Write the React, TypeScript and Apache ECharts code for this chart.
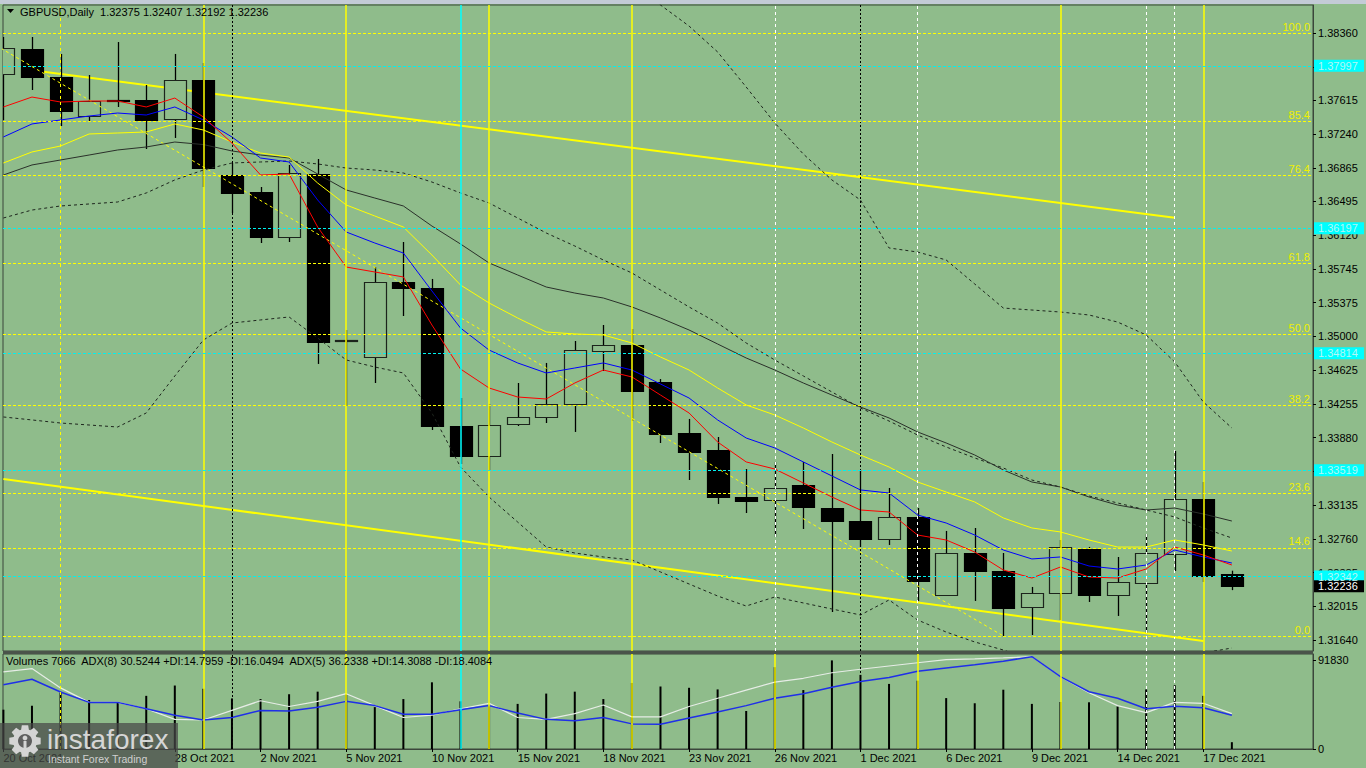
import React, { useEffect, useRef } from "react";
import * as echarts from "echarts";

// ---------- data ----------
const dates = [
  "20 Oct 2021", "21 Oct 2021", "22 Oct 2021", "25 Oct 2021", "26 Oct 2021", "27 Oct 2021", "28 Oct 2021", "29 Oct 2021",
  "1 Nov 2021", "2 Nov 2021", "3 Nov 2021", "4 Nov 2021", "5 Nov 2021", "8 Nov 2021", "9 Nov 2021", "10 Nov 2021",
  "11 Nov 2021", "12 Nov 2021", "15 Nov 2021", "16 Nov 2021", "17 Nov 2021", "18 Nov 2021", "19 Nov 2021", "22 Nov 2021",
  "23 Nov 2021", "24 Nov 2021", "25 Nov 2021", "26 Nov 2021", "29 Nov 2021", "30 Nov 2021", "1 Dec 2021", "2 Dec 2021",
  "3 Dec 2021", "6 Dec 2021", "7 Dec 2021", "8 Dec 2021", "9 Dec 2021", "10 Dec 2021", "13 Dec 2021", "14 Dec 2021",
  "15 Dec 2021", "16 Dec 2021", "17 Dec 2021", "20 Dec 2021",
];
const dateLabelIdx = [0, 6, 9, 12, 15, 18, 21, 24, 27, 30, 33, 36, 39, 42];

const opens = [1.37906, 1.38183, 1.37873, 1.37441, 1.37618, 1.37618, 1.37408, 1.3784, 1.36788, 1.366, 1.36102, 1.36799, 1.3495, 1.34773, 1.35603, 1.35537, 1.34009, 1.33677, 1.34031, 1.34109, 1.34253, 1.34839, 1.34906, 1.34496, 1.33932, 1.33743, 1.33223, 1.3319, 1.33356, 1.33101, 1.32957, 1.32758, 1.33002, 1.32138, 1.32603, 1.32404, 1.32005, 1.3216, 1.32647, 1.32138, 1.32271, 1.32592, 1.33201, 1.32375];
const closes = [1.38194, 1.37873, 1.37496, 1.37607, 1.37607, 1.37397, 1.3784, 1.36865, 1.36589, 1.36102, 1.3681, 1.34939, 1.34961, 1.35603, 1.35537, 1.34009, 1.33677, 1.3402, 1.34109, 1.34253, 1.3485, 1.34906, 1.34397, 1.33921, 1.33721, 1.33223, 1.33179, 1.33323, 1.33112, 1.32957, 1.32758, 1.33002, 1.32293, 1.32603, 1.32404, 1.31994, 1.3216, 1.3267, 1.32138, 1.32282, 1.32603, 1.33201, 1.32348, 1.32236];
const lows = [1.37397, 1.37729, 1.3733, 1.37386, 1.37541, 1.37076, 1.37198, 1.36655, 1.36367, 1.36035, 1.36046, 1.34696, 1.34231, 1.34485, 1.35227, 1.33965, 1.33588, 1.33511, 1.34009, 1.34042, 1.33943, 1.34618, 1.34064, 1.33821, 1.33411, 1.33146, 1.33046, 1.3278, 1.32869, 1.3195, 1.3267, 1.32692, 1.32072, 1.32138, 1.32072, 1.31673, 1.31695, 1.31861, 1.32061, 1.31906, 1.31717, 1.32404, 1.32282, 1.32192];
const highs = [1.38316, 1.38316, 1.38128, 1.37895, 1.3826, 1.37784, 1.38128, 1.38028, 1.36921, 1.36655, 1.36899, 1.36965, 1.35072, 1.35769, 1.36046, 1.35637, 1.34319, 1.34253, 1.34485, 1.34707, 1.3495, 1.35127, 1.35083, 1.34529, 1.34087, 1.33887, 1.33533, 1.33611, 1.33611, 1.33699, 1.33522, 1.33323, 1.33101, 1.32847, 1.3288, 1.32603, 1.32227, 1.32747, 1.3267, 1.32559, 1.32813, 1.33732, 1.33389, 1.32407];

const maRed = [1.37541, 1.37651, 1.37596, 1.37607, 1.37607, 1.37541, 1.3764, 1.3743, 1.37142, 1.36788, 1.36799, 1.36212, 1.35769, 1.35714, 1.35659, 1.35127, 1.3464, 1.3443, 1.3433, 1.34308, 1.34485, 1.34629, 1.34552, 1.34352, 1.34153, 1.33832, 1.33611, 1.33533, 1.33378, 1.33223, 1.33079, 1.33057, 1.32802, 1.32747, 1.32614, 1.32415, 1.32326, 1.32448, 1.32337, 1.32326, 1.32426, 1.32669, 1.32581, 1.3247];
const maBlue = [1.37209, 1.37353, 1.37397, 1.37441, 1.37474, 1.37452, 1.37541, 1.37397, 1.37209, 1.36976, 1.36932, 1.36511, 1.36157, 1.36035, 1.35924, 1.35504, 1.35094, 1.3485, 1.34707, 1.34596, 1.34651, 1.34707, 1.34629, 1.34474, 1.34319, 1.34076, 1.33876, 1.33766, 1.33611, 1.33456, 1.33301, 1.33267, 1.33024, 1.32935, 1.32802, 1.32636, 1.32537, 1.32559, 1.32459, 1.32426, 1.3247, 1.32636, 1.32559, 1.32492];
const maYellow = [1.36921, 1.37043, 1.37109, 1.37242, 1.37253, 1.37264, 1.37353, 1.37286, 1.37153, 1.37031, 1.36987, 1.36699, 1.36456, 1.36334, 1.36212, 1.35902, 1.3557, 1.35371, 1.35205, 1.3505, 1.35028, 1.35017, 1.34928, 1.34773, 1.34629, 1.3443, 1.34242, 1.34131, 1.33987, 1.33832, 1.33688, 1.33555, 1.33389, 1.33278, 1.33168, 1.32991, 1.3288, 1.32836, 1.32747, 1.32669, 1.32669, 1.32747, 1.32692, 1.32625];
const maBlack = [1.36788, 1.36899, 1.36954, 1.37009, 1.37065, 1.37098, 1.37153, 1.37125, 1.37054, 1.37009, 1.36976, 1.36799, 1.36622, 1.36533, 1.36445, 1.36223, 1.36024, 1.35814, 1.35681, 1.35548, 1.35481, 1.35426, 1.35327, 1.35205, 1.35072, 1.34917, 1.34762, 1.34629, 1.34485, 1.34352, 1.34219, 1.34098, 1.33943, 1.33821, 1.33688, 1.33522, 1.33389, 1.33334, 1.33223, 1.33134, 1.33079, 1.33101, 1.33035, 1.32957];
const bbUpper = [null, null, null, null, null, null, null, null, null, null, null, null, null, null, null, null, null, null, null, null, null, 1.39168, 1.38891, 1.3867, 1.38437, 1.3815, 1.37762, 1.37364, 1.3702, 1.36733, 1.36511, 1.3598, 1.35935, 1.35847, 1.35581, 1.35315, 1.35293, 1.35271, 1.35238, 1.3516, 1.35017, 1.34718, 1.34275, 1.33987];
const bbMiddle = [1.36312, 1.364, 1.36445, 1.36467, 1.36489, 1.36589, 1.36733, 1.36843, 1.36921, 1.36932, 1.36943, 1.3691, 1.36865, 1.36843, 1.3681, 1.3671, 1.36589, 1.36478, 1.36312, 1.36146, 1.36002, 1.35847, 1.35703, 1.35515, 1.35327, 1.35149, 1.34928, 1.3474, 1.34563, 1.34386, 1.34208, 1.34064, 1.33909, 1.33777, 1.33655, 1.33544, 1.33411, 1.33334, 1.33234, 1.33157, 1.33079, 1.33002, 1.3288, 1.32769];
const bbLower = [1.34109, 1.34076, 1.34042, 1.3402, 1.33998, 1.34153, 1.34563, 1.34961, 1.35149, 1.35183, 1.35216, 1.34983, 1.3474, 1.34662, 1.34596, 1.34153, 1.33555, 1.33223, 1.32946, 1.32669, 1.32603, 1.32559, 1.32526, 1.32393, 1.3226, 1.32127, 1.32016, 1.32116, 1.3205, 1.31983, 1.31917, 1.32083, 1.31861, 1.31728, 1.31618, 1.31529, 1.31418, 1.3133, 1.31286, 1.31241, 1.31252, 1.3133, 1.31496, 1.31551];

const volumes = [40740, 44740, 58430, 50750, 48420, 55090, 65780, 62440, 52420, 51750, 56760, 59430, 56760, 43410, 51750, 69120, 49420, 45080, 46750, 57430, 59430, 51750, 68450, 64780, 63440, 61770, 39400, 84810, 61100, 91830, 76800, 67450, 70790, 52760, 47410, 61440, 46750, 48750, 48420, 44070, 61770, 66110, 55090, 7066];
const adx5 = [83.6, 87.1, 66.2, 50.5, 50.5, 43.6, 32.1, 31.4, 41.8, 52.3, 46.0, 51.6, 59.9, 47.0, 34.1, 36.6, 43.6, 49.5, 34.1, 32.1, 38.3, 47.7, 34.8, 34.8, 46.0, 55.0, 63.8, 72.5, 76.6, 82.6, 86.4, 89.9, 93.4, 96.9, 97.6, 98.6, 100, 78.4, 61.0, 47.0, 39.4, 50.5, 49.5, 38.3];
const adx8 = [69.7, 75.6, 61.7, 50.5, 50.5, 43.6, 36.6, 31.4, 34.1, 41.8, 41.1, 45.3, 51.6, 47.0, 37.6, 37.6, 42.5, 47.0, 39.0, 32.1, 30.7, 34.1, 27.2, 26.8, 33.5, 40.1, 47.0, 55.0, 59.9, 66.9, 73.2, 77.4, 84.3, 87.8, 91.3, 95.1, 100, 78.4, 62.0, 55.0, 43.6, 46.3, 44.6, 36.6];

const priceTicks = [1.3836, 1.37985, 1.37615, 1.3724, 1.36865, 1.36495, 1.3612, 1.35745, 1.35375, 1.35, 1.34625, 1.34255, 1.3388, 1.33505, 1.33135, 1.3276, 1.32385, 1.32015, 1.3164];
const volumeTicks = [0, 91830];
const fibHigh = 1.3836;
const fibLow = 1.31684;
const fibLevels = [0, 14.6, 23.6, 38.2, 50, 61.8, 76.4, 85.4, 100];
const cyanLevels = [1.37997, 1.36197, 1.34814, 1.33519, 1.32342];
const lastPrice = 1.32236;
const upperChannel = [[1, 1.37947], [41, 1.36314]];
const lowerChannel = [[0, 1.33422], [42, 1.31629]];
const fibDiagonal = [[-1, 1.3836], [35, 1.31684]];

const yellowVLinesMain = [7, 12, 17, 22, 37, 42];
const whiteVLinesMain = [27, 32, 40, 41];
const yellowVLinesVol = [7, 12, 17, 22, 27, 32, 37, 42];
const whiteVLinesVol = [40, 41];
const yellowDashedVLines = [2];
const cyanVLines = [16];
const blackDottedVLines = [8, 30];

const headerText = "GBPUSD,Daily  1.32375 1.32407 1.32192 1.32236";
const volHeaderText = "Volumes 7066  ADX(8) 30.5244 +DI:14.7959 -DI:16.0494  ADX(5) 36.2338 +DI:14.3088 -DI:18.4084";

// ---------- layout / style ----------
const FONT = "'Liberation Sans', Arial, sans-serif";
const BG = "#8fbc8b";
const BORDER = "#3b463b";
const XMIN = -0.014;
const XMAX = 45.84;
const YMIN = 1.31518;
const YMAX = 1.3867;
const VOL_MAX = 98460;
const ADX_MAX = 102.9;

const idxPairs = (arr: (number | null)[]) => arr.map((v, i) => [i, v]);

function vline(x: number, color: string, type: any, width: number) {
  return { xAxis: x, lineStyle: { color, type, width } };
}

function lineSeries(data: any[], color: string, width: number, type: any, z: number, xi = 0, yi = 0) {
  return {
    type: "line",
    xAxisIndex: xi,
    yAxisIndex: yi,
    data,
    z,
    symbol: "none",
    showSymbol: false,
    silent: true,
    connectNulls: false,
    lineStyle: { color, width, type },
    emphasis: { disabled: true },
  };
}

export default function App() {
  const ref = useRef<HTMLDivElement>(null);

  useEffect(() => {
    document.body.style.margin = "0";
    if (!ref.current) return;
    const chart = echarts.init(ref.current, null, { renderer: "svg" });

    const candleData = opens.map((o, i) => [i, o, closes[i], lows[i], highs[i]]);

    const option: any = {
      animation: false,
      backgroundColor: BG,
      textStyle: { fontFamily: FONT },
      grid: [
        { left: 3, top: 5, width: 1310, height: 646, show: true, borderColor: BORDER, borderWidth: 1, backgroundColor: "transparent", containLabel: false, outerBoundsMode: "none" },
        { left: 3, top: 654, width: 1310, height: 95, show: true, borderColor: BORDER, borderWidth: 1, backgroundColor: "transparent", containLabel: false, outerBoundsMode: "none" },
      ],
      xAxis: [
        { type: "value", gridIndex: 0, min: XMIN, max: XMAX, show: false },
        {
          type: "value", gridIndex: 1, min: XMIN, max: XMAX,
          splitLine: { show: false },
          axisLine: { show: true, onZero: false, lineStyle: { color: BORDER } },
          axisTick: { show: true, customValues: dateLabelIdx, length: 3, lineStyle: { color: "#000" } },
          axisLabel: { customValues: dateLabelIdx, formatter: (v: number) => dates[Math.round(v)], align: "left", margin: 3, color: "#000", fontSize: 11, fontFamily: FONT },
        },
      ],
      yAxis: [
        {
          type: "value", gridIndex: 0, position: "right", min: YMIN, max: YMAX,
          splitLine: { show: false },
          axisLine: { show: true, onZero: false, lineStyle: { color: BORDER } },
          axisTick: { show: true, customValues: priceTicks, length: 3, lineStyle: { color: "#000" } },
          axisLabel: { customValues: priceTicks, formatter: (v: number) => v.toFixed(5), margin: 5, color: "#000", fontSize: 11, fontFamily: FONT },
        },
        {
          type: "value", gridIndex: 1, position: "right", min: 0, max: VOL_MAX,
          splitLine: { show: false },
          axisLine: { show: true, onZero: false, lineStyle: { color: BORDER } },
          axisTick: { show: true, customValues: volumeTicks, length: 3, lineStyle: { color: "#000" } },
          axisLabel: { customValues: volumeTicks, formatter: (v: number) => String(v), margin: 5, color: "#000", fontSize: 11, fontFamily: FONT },
        },
        { type: "value", gridIndex: 1, min: 0, max: ADX_MAX, show: false },
      ],
      series: [
        // vertical lines (main panel) behind candles
        {
          type: "line", xAxisIndex: 0, yAxisIndex: 0, z: 1, data: [[0, 1.35]], symbol: "none", lineStyle: { opacity: 0 }, silent: true,
          markLine: {
            silent: true, symbol: ["none", "none"], label: { show: false }, animation: false, precision: 6,
            data: [
              ...yellowDashedVLines.map((x) => vline(x, "#ffff00", [3, 3], 1)),
              ...yellowVLinesMain.map((x) => vline(x, "#ffff00", "solid", 1.5)),
              ...whiteVLinesMain.map((x) => vline(x, "#ffffff", [3, 3], 1)),
              ...cyanVLines.map((x) => vline(x, "#00ffff", "solid", 1.5)),
              ...blackDottedVLines.map((x) => vline(x, "#000000", [2, 2], 1)),
            ],
          },
        },
        // channel lines
        lineSeries(upperChannel, "#ffff00", 2, "solid", 1),
        lineSeries(lowerChannel, "#ffff00", 2, "solid", 1),
        // candles
        {
          type: "custom", xAxisIndex: 0, yAxisIndex: 0, z: 2, clip: true, silent: true,
          data: candleData,
          encode: { x: 0, y: [1, 2, 3, 4] },
          renderItem: (params: any, api: any) => {
            const i = api.value(0), o = api.value(1), c = api.value(2), l = api.value(3), h = api.value(4);
            const pO = api.coord([i, o]);
            const pC = api.coord([i, c]);
            const pL = api.coord([i, l]);
            const pH = api.coord([i, h]);
            const cx = Math.round(pO[0]);
            const top = Math.round(Math.min(pO[1], pC[1]));
            const bot = Math.round(Math.max(pO[1], pC[1]));
            const bull = c > o;
            return {
              type: "group",
              children: [
                { type: "line", shape: { x1: cx + 0.5, y1: pH[1], x2: cx + 0.5, y2: pL[1] }, style: { stroke: "#000", lineWidth: 1.3 } },
                { type: "rect", shape: { x: cx - 11 + 0.5, y: top + 0.5, width: 22, height: Math.max(bot - top, 1) }, style: { fill: bull ? BG : "#000", stroke: bull ? "#1c241c" : "#000", lineWidth: 1.2 } },
              ],
            };
          },
        },
        // fib + cyan horizontal lines
        {
          type: "line", xAxisIndex: 0, yAxisIndex: 0, z: 3, data: [[0, 1.35]], symbol: "none", lineStyle: { opacity: 0 }, silent: true,
          markLine: {
            silent: true, symbol: ["none", "none"], animation: false, precision: 6,
            data: [
              ...fibLevels.map((lv) => ({
                yAxis: fibLow + ((fibHigh - fibLow) * lv) / 100,
                lineStyle: { color: "#ffff00", type: [3, 2], width: 1 },
                label: { show: true, position: "insideEndTop", formatter: lv.toFixed(1), color: "#f0f000", fontSize: 11, fontFamily: FONT, distance: [3, 1] },
              })),
              ...cyanLevels.map((v) => ({ yAxis: v, lineStyle: { color: "#00f0f0", type: [3, 2], width: 1 }, label: { show: false } })),
            ],
          },
        },
        lineSeries(fibDiagonal, "#ffff00", 1, [3, 3], 3),
        // bollinger style dashed lines
        lineSeries(idxPairs(bbUpper), "#1e261e", 1, [3, 3], 4),
        lineSeries(idxPairs(bbMiddle), "#1e261e", 1, [3, 3], 4),
        lineSeries(idxPairs(bbLower), "#1e261e", 1, [3, 3], 4),
        // moving averages
        lineSeries(idxPairs(maBlack), "#2a302a", 1, "solid", 4),
        lineSeries(idxPairs(maYellow), "#ffff00", 1, "solid", 4),
        lineSeries(idxPairs(maBlue), "#0000ff", 1, "solid", 4),
        lineSeries(idxPairs(maRed), "#ff0000", 1, "solid", 4),
        // volume panel vertical lines
        {
          type: "line", xAxisIndex: 1, yAxisIndex: 1, z: 1, data: [[0, 0]], symbol: "none", lineStyle: { opacity: 0 }, silent: true,
          markLine: {
            silent: true, symbol: ["none", "none"], label: { show: false }, animation: false, precision: 6,
            data: [
              ...yellowDashedVLines.map((x) => vline(x, "#ffff00", [3, 3], 1)),
              ...yellowVLinesVol.map((x) => vline(x, "#ffff00", "solid", 1.5)),
              ...whiteVLinesVol.map((x) => vline(x, "#ffffff", [3, 3], 1)),
              ...cyanVLines.map((x) => vline(x, "#00ffff", "solid", 1.5)),
              ...blackDottedVLines.map((x) => vline(x, "#000000", [2, 2], 1)),
            ],
          },
        },
        {
          type: "bar", xAxisIndex: 1, yAxisIndex: 1, z: 2, silent: true,
          data: idxPairs(volumes), barWidth: 2,
          itemStyle: { color: "#000" },
          emphasis: { disabled: true },
        },
        lineSeries(idxPairs(adx5), "#e6ece6", 1.2, "solid", 3, 1, 2),
        lineSeries(idxPairs(adx8), "#1f2fe8", 1.5, "solid", 3, 1, 2),
      ],
    };

    chart.setOption(option);

    // price boxes placed through the y axis scale
    const boxes = [
      ...cyanLevels.map((v) => ({ v, bg: "#00ffff", fg: "#b4f6f6" })),
      { v: lastPrice, bg: "#000000", fg: "#ffffff" },
    ];
    const boxEls: any[] = [];
    boxes.forEach((b) => {
      const y = chart.convertToPixel({ yAxisIndex: 0 } as any, b.v) as unknown as number;
      boxEls.push({ type: "rect", z: 60, silent: true, shape: { x: 1314, y: y - 6, width: 50, height: 12 }, style: { fill: b.bg } });
      boxEls.push({ type: "text", z: 61, silent: true, x: 1318, y, style: { text: b.v.toFixed(5), fill: b.fg, fontSize: 11, fontFamily: FONT, textVerticalAlign: "middle" } });
    });

    // gear logo polygon
    const gearPts: number[][] = [];
    const gcx = 25, gcy = 741;
    for (let t = 0; t < 8; t++) {
      const base = (t * Math.PI) / 4;
      const a = [base - 0.33, base - 0.2, base + 0.2, base + 0.33];
      const r = [12, 16, 16, 12];
      for (let k = 0; k < 4; k++) gearPts.push([gcx + r[k] * Math.cos(a[k]), gcy + r[k] * Math.sin(a[k])]);
    }

    const graphic: any[] = [
      { type: "rect", z: 100, silent: true, shape: { x: 0, y: 0, width: 1366, height: 4 }, style: { fill: "#c3cbd6" } },
      { type: "rect", z: 100, silent: true, shape: { x: 3, y: 651, width: 1310, height: 3 }, style: { fill: "#4a544a" } },
      { type: "polygon", z: 100, silent: true, shape: { points: [[7, 9], [14, 9], [10.5, 13]] }, style: { fill: "#000" } },
      { type: "text", z: 100, silent: true, x: 20, y: 12, style: { text: headerText, fill: "#000", fontSize: 11, fontFamily: FONT, textVerticalAlign: "middle" } },
      { type: "text", z: 100, silent: true, x: 6, y: 661, style: { text: volHeaderText, fill: "#000", fontSize: 11, fontFamily: FONT, textVerticalAlign: "middle" } },
      ...boxEls,
      // logo
      { type: "rect", z: 120, silent: true, shape: { x: 0, y: 723, width: 178, height: 45 }, style: { fill: "rgba(70,70,70,0.72)" } },
      { type: "polygon", z: 121, silent: true, shape: { points: gearPts }, style: { fill: "#d4d4d4" } },
      { type: "circle", z: 122, silent: true, shape: { cx: gcx, cy: gcy, r: 7 }, style: { fill: "#5e5e5e" } },
      { type: "circle", z: 123, silent: true, shape: { cx: gcx, cy: gcy - 3, r: 2.4 }, style: { fill: "#d4d4d4" } },
      { type: "rect", z: 123, silent: true, shape: { x: gcx - 1.5, y: gcy, width: 3, height: 9 }, style: { fill: "#d4d4d4" } },
      { type: "text", z: 121, silent: true, x: 47, y: 739, style: { text: "instaforex", fill: "#d6d6d6", fontSize: 28, fontFamily: FONT, textVerticalAlign: "middle" } },
      { type: "text", z: 121, silent: true, x: 48, y: 759, style: { text: "Instant Forex Trading", fill: "#d0d0d0", fontSize: 10.5, fontFamily: FONT, textVerticalAlign: "middle" } },
    ];

    chart.setOption({ graphic });

    return () => {
      chart.dispose();
    };
  }, []);

  return <div ref={ref} style={{ width: 1366, height: 768, background: BG }} />;
}
